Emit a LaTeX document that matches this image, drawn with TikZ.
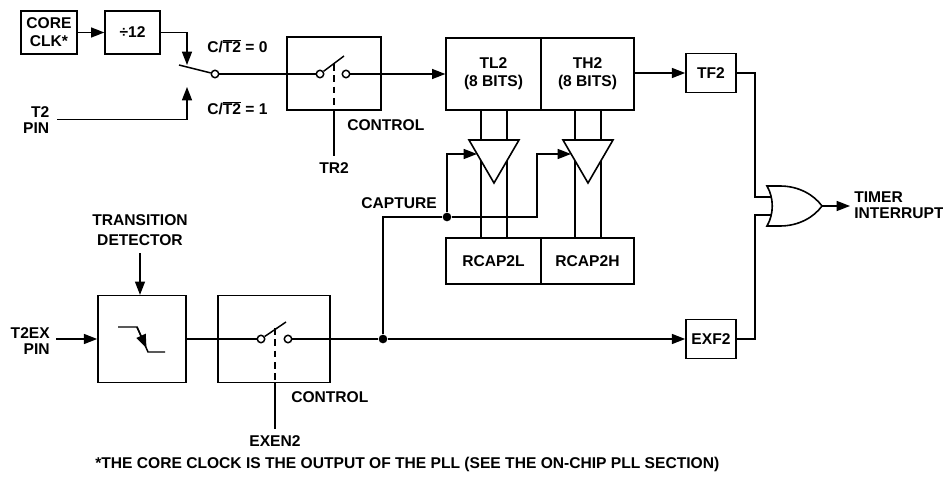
\documentclass[tikz,border=0pt]{standalone}
\usepackage{fontspec}
\setmainfont{Liberation Sans}
\usetikzlibrary{arrows.meta}
\tikzset{
  wire/.style={line width=1.1pt},
  feed/.style={wire, -{Triangle[length=10pt,width=7.5pt]}},
  blockbox/.style={draw, line width=1.2pt, inner sep=0pt, align=center},
  lbl/.style={font=\fontsize{11.7}{12}\selectfont\bfseries, align=center, inner sep=0pt},
  contact/.style={circle, draw, line width=1.1pt, fill=white, minimum size=5.6pt, inner sep=0pt},
  junction/.style={circle, fill=black, minimum size=6.5pt, inner sep=0pt},
}
\begin{document}
\begin{tikzpicture}[x=0.75pt,y=-0.75pt]
\useasboundingbox (0,0) rectangle (943,478);
% top row
\node[blockbox, lbl, draw, minimum width=42pt, minimum height=32.5pt] (coreclk) at (49,32.5) {CORE\\[1.5pt]CLK*};
\node[blockbox, lbl, draw, minimum width=41pt, minimum height=32.5pt] (div) at (132.5,32.5) {÷12};
\node[blockbox, minimum width=70.5pt, minimum height=55pt] (trbox) at (334,73.5) {};
\node[blockbox, lbl, draw, minimum width=71pt, minimum height=54pt] (tl) at (493.5,74) {TL2\\[1.5pt](8 BITS)};
\node[blockbox, lbl, draw, minimum width=70pt, minimum height=54pt] (th) at (587.5,74) {TH2\\[1.5pt](8 BITS)};
\node[blockbox, lbl, draw, minimum width=37.5pt, minimum height=29pt] (tf) at (711,73) {TF2};
\node[blockbox, lbl, draw, minimum width=71pt, minimum height=34.5pt] (rcapl) at (493.5,261) {RCAP2L};
\node[blockbox, lbl, draw, minimum width=70pt, minimum height=34.5pt] (rcaph) at (587.5,261) {RCAP2H};
% bottom row
\node[blockbox, minimum width=66pt, minimum height=65pt] (edge) at (142,339) {};
\node[blockbox, minimum width=84pt, minimum height=65pt] (enbox) at (274,339) {};
\node[blockbox, lbl, draw, minimum width=37.5pt, minimum height=29pt] (exf) at (711,339) {EXF2};
% labels
\node[lbl, align=right, anchor=east] (t2pin) at (49.5,120.5) {T2\\PIN};
\node[lbl, align=right, anchor=east] (t2expin) at (50,341.5) {T2EX\\PIN};
\node[lbl, anchor=west] (czero) at (207,46) {C/$\overline{\mbox{T2}}$ = 0};
\node[lbl, anchor=west] (cone) at (207,108) {C/$\overline{\mbox{T2}}$ = 1};
\node[lbl, anchor=west] (ctla) at (347,125) {CONTROL};
\node[lbl] (trtwo) at (334,168) {TR2};
\node[lbl, anchor=east] (capture) at (437,203) {CAPTURE};
\node[lbl] (transdet) at (140,230) {TRANSITION\\[3pt]DETECTOR};
\node[lbl, anchor=west] (ctlb) at (291,397) {CONTROL};
\node[lbl] (exen) at (275,441) {EXEN2};
\node[lbl, align=left, anchor=west] (timer) at (854,205) {TIMER\\INTERRUPT};
\node[lbl, anchor=west] (note) at (95,464) {*THE CORE CLOCK IS THE OUTPUT OF THE PLL (SEE THE ON-CHIP PLL SECTION)};
% switch contacts
\node[contact] (swout) at (215,74) {};
\node[contact] (tra) at (320,74) {};
\node[contact] (trb) at (346,74) {};
\node[contact] (ena) at (261,339) {};
\node[contact] (enb) at (288,339) {};
\node[junction] (capdot) at (447,217) {};
\node[junction] (maindot) at (383,339) {};
\coordinate (swin) at (187,65);
\coordinate (swup) at (187,87);
\coordinate (swarm) at (179,65);
\coordinate (t2start) at (57,119.5);
\coordinate (t2exstart) at (56,339);
\coordinate (orup) at (771,197);
\coordinate (ordn) at (771,215);
\coordinate (orout) at (822,206);
\coordinate (trin) at (477,154);
\coordinate (thin) at (571,154);
% connectors
\draw[feed] (coreclk) -- (div);
\draw[feed] (div.east) -| (swin);
\draw[wire] (swarm) -- (swout);
\draw[feed] (t2start) -| (swup);
\draw[wire] (swout) -- (tra);
\draw[wire] (tra) -- (344,56);
\draw[feed] (trb) -- (tl.west |- trb);
\draw[wire, dash pattern=on 5pt off 3.5pt] (334,64) -- (trbox.south);
\draw[wire, shorten >=5pt] (trbox.south) -- (trtwo.north);
\draw[feed] (th.east |- tf) -- (tf);
% capture buffers
\foreach \x in {481,507,575,601}
  \draw[wire] (\x,110) -- (\x,238);
\draw[line width=1.2pt, fill=white] (469,140) -- (519,140) -- (494,183) -- cycle;
\draw[line width=1.2pt, fill=white] (563,140) -- (613,140) -- (588,183) -- cycle;
\draw[feed] (capdot) |- (trin);
\draw[feed] (capdot) -| (537,154) -- (thin);
\draw[wire] (maindot) |- (capdot);
% lower path
\draw[feed] (t2exstart) -- (edge.west);
\draw[feed] (140,253) -- (edge.north -| 140,0);
\draw[wire] (edge.east) -- (ena);
\draw[wire] (ena) -- (286,322);
\draw[wire, dash pattern=on 5pt off 3.5pt] (275,328) -- (enbox.south -| 275,0);
\draw[wire, shorten >=5pt] (enbox.south -| 275,0) -- (exen.north);
\draw[wire] (enb) -- (maindot);
\draw[feed] (maindot) -- (exf);
% edge symbol
\draw[wire] (118,327) -- (137,327) -- (148,352) -- (165,352);
\draw[feed] (137,327) -- (146.5,348);
% or gate
\draw[wire] (tf.east) -| (755,197) -- (orup);
\draw[wire] (exf.east) -| (755,215) -- (ordn);
\draw[line width=1.2pt] (767,186) .. controls (774,198) and (774,214) .. (767,226)
  -- (780,226) .. controls (799,226) and (814,217) .. (orout)
  .. controls (814,195) and (799,186) .. (780,186) -- cycle;
\draw[feed] (orout) -- (850,206);
\end{tikzpicture}
\end{document}
